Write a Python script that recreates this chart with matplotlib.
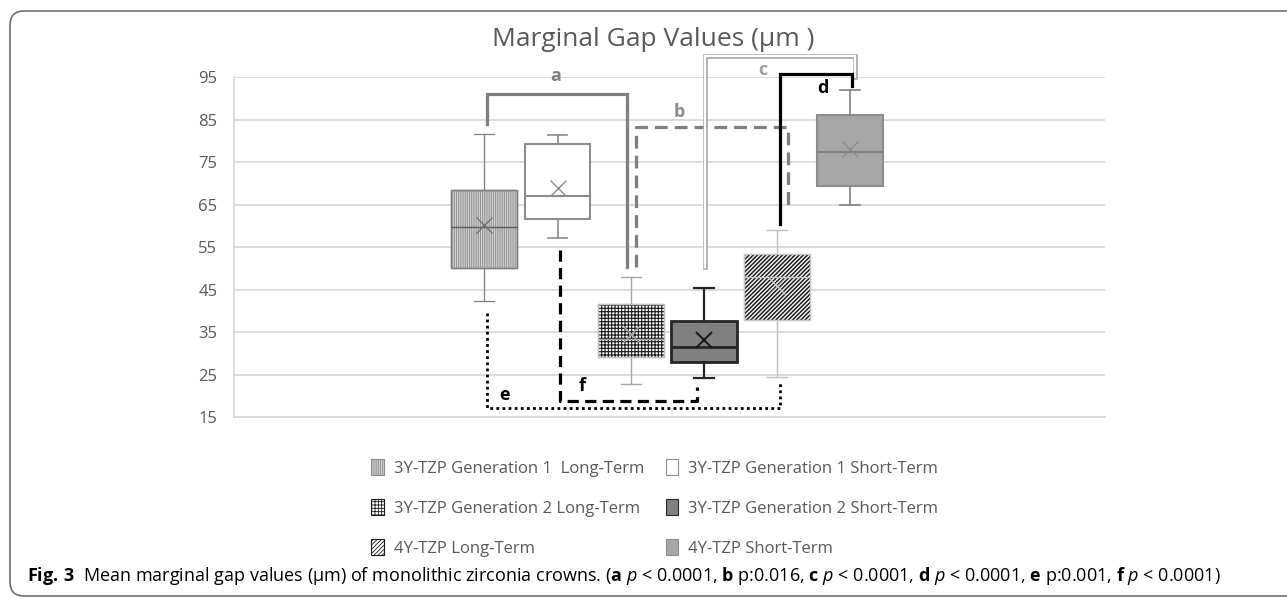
import matplotlib
matplotlib.use('Agg')
import matplotlib.pyplot as plt
from matplotlib.patches import Patch, PathPatch, FancyBboxPatch

plt.rcParams['font.family'] = ['Open Sans', 'DejaVu Sans']
plt.rcParams['mathtext.fontset'] = 'custom'
plt.rcParams['mathtext.rm'] = 'Open Sans'
plt.rcParams['mathtext.it'] = 'Open Sans:italic'
plt.rcParams['mathtext.bf'] = 'Open Sans:bold'
plt.rcParams['hatch.linewidth'] = 0.6

# box data (µm)
groups = ['3Y-TZP Generation 1  Long-Term', '3Y-TZP Generation 1 Short-Term',
          '3Y-TZP Generation 2 Long-Term', '3Y-TZP Generation 2 Short-Term',
          '4Y-TZP Long-Term', '4Y-TZP Short-Term']
whislo = [42.4, 57.3, 22.8, 24.3, 24.4, 65.0]
q1 = [50.1, 61.6, 29.3, 28.1, 37.9, 69.4]
med = [59.7, 67.1, 33.5, 31.5, 48.0, 77.4]
q3 = [68.5, 79.4, 41.6, 37.7, 53.4, 86.1]
whishi = [81.7, 81.5, 48.0, 45.4, 59.1, 92.1]
means = [60.3, 68.9, 34.5, 33.2, 46.0, 78.1]
yticks = [15, 25, 35, 45, 55, 65, 75, 85, 95]

# significance brackets: label, left x, right x, top y, left end y, right end y
brackets = [
    ('a', 1.04, 2.95, 91.0, 83.9, 50.4),
    ('b', 3.07, 5.15, 83.4, 50.4, 64.8),
    ('c', 4.01, 6.06, 99.9, 50.4, 95.1),
    ('d', 5.04, 6.03, 95.8, 60.5, 93.0),
    ('e', 1.03, 5.04, 17.1, 39.5, 23.0),
    ('f', 2.03, 3.91, 18.9, 54.4, 22.2),
]
bracket_labels = {'a': (1.98, 95.3), 'b': (3.67, 86.9), 'c': (4.80, 96.7),
                  'd': (5.63, 92.6), 'e': (1.27, 20.2), 'f': (2.33, 22.4)}

# styles per box
styles = [
    dict(face='#d6d6d6', hatch='|' * 9, hcol='#8a8a8a', hlw=0.6, edge='#7f7f7f', lw=1.0,
         wcol='#7f7f7f', wlw=0.9, mcol='#595959', xcol='#6f6f6f', xlw=0.9),
    dict(face='white', hatch=None, hcol=None, hlw=0.6, edge='#8c8c8c', lw=1.5,
         wcol='#8c8c8c', wlw=1.2, mcol='#8c8c8c', xcol='#8c8c8c', xlw=1.0),
    dict(face='white', hatch='+' * 5, hcol='#1a1a1a', hlw=0.8, edge='#bfbfbf', lw=1.0,
         wcol='#a6a6a6', wlw=1.0, mcol='#a6a6a6', xcol='#a6a6a6', xlw=0.9),
    dict(face='#808080', hatch=None, hcol=None, hlw=0.6, edge='#262626', lw=2.0,
         wcol='#262626', wlw=1.6, mcol='#262626', xcol='#1a1a1a', xlw=1.5),
    dict(face='white', hatch='/' * 8, hcol='#1a1a1a', hlw=1.1, edge='#c8c8c8', lw=1.0,
         wcol='#c0c0c0', wlw=1.0, mcol='#c8c8c8', xcol='#c8c8c8', xlw=0.9),
    dict(face='#a6a6a6', hatch=None, hcol=None, hlw=0.6, edge='#8c8c8c', lw=1.5,
         wcol='#808080', wlw=1.2, mcol='#7f7f7f', xcol='#8c8c8c', xlw=1.0),
]


def hatched(path_or_none, transform, st, **kw):
    with plt.rc_context({'hatch.linewidth': st['hlw']}):
        if path_or_none is None:
            p = Patch(**kw)
        else:
            p = PathPatch(path_or_none, transform=transform, **kw)
    if hasattr(p, 'set_hatch_linewidth'):
        p.set_hatch_linewidth(st['hlw'])
    return p


fig = plt.figure(figsize=(12.87, 5.97), dpi=100)
ax = fig.add_axes([234 / 1287, 1 - 417.3 / 597, 871 / 1287, 340 / 597])

ax.set_ylim(15, 95)
ax.set_xlim(-2.42, 9.48)
ax.set_yticks(yticks)
ax.set_xticks([])
ax.yaxis.grid(True, color='#d9d9d9', lw=1.3)
ax.set_axisbelow(True)
for s in ['top', 'right']:
    ax.spines[s].set_visible(False)
ax.spines['left'].set_color('#d9d9d9')
ax.spines['bottom'].set_color('#d9d9d9')
ax.spines['left'].set_linewidth(1.3)
ax.spines['bottom'].set_linewidth(1.3)
ax.tick_params(axis='y', length=0, labelsize=12, labelcolor='#595959', pad=12)

legend_handles = []
for i, st in enumerate(styles):
    stats = [dict(whislo=whislo[i], q1=q1[i], med=med[i], q3=q3[i],
                  whishi=whishi[i], mean=means[i], fliers=[])]
    res = ax.bxp(stats, positions=[i + 1], widths=0.9, patch_artist=True,
                 showmeans=True, manage_ticks=False, capwidths=0.27,
                 boxprops=dict(facecolor=st['face'], edgecolor=st['edge'], linewidth=st['lw']),
                 whiskerprops=dict(color=st['wcol'], linewidth=st['wlw']),
                 capprops=dict(color=st['wcol'], linewidth=st['wlw']),
                 medianprops=dict(color=st['mcol'], linewidth=st['lw']),
                 meanprops=dict(marker='x', markersize=12, markeredgecolor=st['xcol'],
                                markeredgewidth=st['xlw']),
                 zorder=3)
    box = res['boxes'][0]
    if st['hatch']:
        ov = hatched(box.get_path(), box.get_transform(), st, facecolor='none',
                     edgecolor=st['hcol'], lw=0, hatch=st['hatch'], zorder=3.05)
        ax.add_patch(ov)
        # redraw edge above hatch
        ed = PathPatch(box.get_path(), transform=box.get_transform(), facecolor='none',
                       edgecolor=st['edge'], lw=st['lw'], zorder=3.1)
        ax.add_patch(ed)
        res['medians'][0].set_zorder(3.2)
        res['means'][0].set_zorder(3.3)
    legend_handles.append(hatched(None, None, st, facecolor=st['face'],
                                  edgecolor=st['hcol'] if st['hatch'] else st['edge'],
                                  hatch=st['hatch'], linewidth=0.8))

# brackets
for lab, x1, x2, ytop, yl, yr in brackets:
    xs = [x1, x1, x2, x2]
    ys = [yl, ytop, ytop, yr]
    if lab == 'a':
        ax.plot(xs, ys, color='#7f7f7f', lw=2.3, clip_on=False, zorder=4,
                solid_joinstyle='miter')
    elif lab == 'b':
        ax.plot(xs, ys, color='#7f7f7f', lw=2.3, ls=(0, (4, 2.2)), clip_on=False, zorder=4)
    elif lab == 'c':
        ax.plot(xs, ys, color='#a6a6a6', lw=3.3, clip_on=False, zorder=4,
                solid_joinstyle='miter')
        ax.plot(xs, ys, color='white', lw=1.6, clip_on=False, zorder=4.1,
                solid_joinstyle='miter')
    elif lab == 'd':
        ax.plot(xs, ys, color='black', lw=2.3, clip_on=False, zorder=4.2,
                solid_joinstyle='miter')
    elif lab == 'e':
        ax.plot(xs, ys, color='black', lw=2.0, ls=(0, (1, 1.2)), clip_on=False, zorder=4)
    elif lab == 'f':
        ax.plot(xs, ys, color='black', lw=2.3, ls=(0, (3.5, 2)), clip_on=False, zorder=4)

label_colors = {'a': '#7f7f7f', 'b': '#8c8c8c', 'c': '#a0a0a0',
                'd': 'black', 'e': 'black', 'f': 'black'}
for lab, (lx, ly) in bracket_labels.items():
    ax.text(lx, ly, lab, ha='center', va='center', fontsize=13, fontweight='bold',
            color=label_colors[lab], clip_on=False, zorder=5)

fig.text(653 / 1287, 1 - 39 / 597, 'Marginal Gap Values (µm )', ha='center', va='center',
         fontsize=19, color='#595959')

order = [0, 2, 4, 1, 3, 5]
fig.legend([legend_handles[k] for k in order], [groups[k] for k in order],
           ncol=2, loc='upper left', bbox_to_anchor=(356 / 1287, 1 - 444 / 597),
           frameon=False, fontsize=12, labelcolor='#595959',
           handlelength=0.75, handleheight=1.1, handletextpad=0.6,
           labelspacing=1.35, columnspacing=1.3)

caption = (r'$\mathbf{Fig.\,3}$  Mean marginal gap values (µm) of monolithic zirconia crowns. '
           r'($\mathbf{a}$ $\mathit{p}$ < 0.0001, $\mathbf{b}$ p:0.016, '
           r'$\mathbf{c}$ $\mathit{p}$ < 0.0001, $\mathbf{d}$ $\mathit{p}$ < 0.0001, '
           r'$\mathbf{e}$ p:0.001, $\mathbf{f}$ $\mathit{p}$ < 0.0001)')
fig.text(27 / 1287, 1 - 576 / 597, caption, ha='left', va='center', fontsize=13, color='black')

frame = FancyBboxPatch((0.10, 0.01), 13.5, 5.85, boxstyle='round,pad=0,rounding_size=0.14',
                       transform=fig.dpi_scale_trans, facecolor='none', edgecolor='#6e6e6e',
                       lw=1.2, clip_on=False)
fig.patches.append(frame)

fig.savefig('out.png', dpi=100)
plt.close(fig)
